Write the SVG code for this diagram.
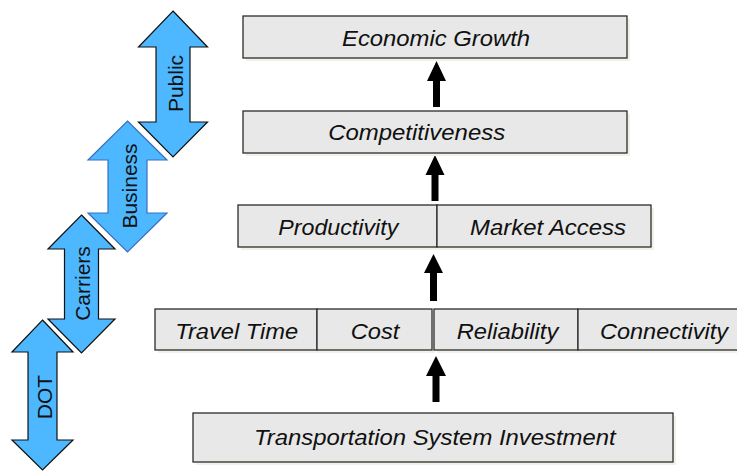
<svg xmlns="http://www.w3.org/2000/svg" width="737" height="471" viewBox="0 0 737 471">
  <style>
    .box { fill: #e8e8e8; stroke: #2b2b2b; stroke-width: 1.3; }
    .shadow { fill: #f1f1e8; }
    .lbl { font-family: "Liberation Sans", Arial, sans-serif; font-size: 21.5px; font-style: italic; fill: #111; text-anchor: middle; }
    .role { fill: #4db8ff; stroke: #111; stroke-width: 1.2; stroke-linejoin: miter; }
    .role-text { font-family: "Liberation Sans", Arial, sans-serif; font-size: 21px; fill: #111; text-anchor: middle; }
    .flow { fill: #000; }
  </style>

  <!-- stakeholder double arrows -->
  <g id="role-public">
    <polygon class="role" points="173,11 207.5,47 190,47 190,122 207.5,122 173,157 138.5,122 156,122 156,47 138.5,47"/>
    <text class="role-text" transform="translate(182.5,83.5) rotate(-90)">Public</text>
  </g>
  <g id="role-business">
    <polygon class="role" style="stroke:#3a6fc0" points="127.5,121 167,160 147,160 147,213 167,213 127.5,252 88,213 108,213 108,160 88,160"/>
    <text class="role-text" transform="translate(136.5,186) rotate(-90)">Business</text>
  </g>
  <g id="role-carriers">
    <polygon class="role" points="81.5,215 115,249 98.5,249 98.5,319 115,319 81.5,353 48,319 64.5,319 64.5,249 48,249"/>
    <text class="role-text" transform="translate(90,283.5) rotate(-90)">Carriers</text>
  </g>
  <g id="role-dot">
    <polygon class="role" points="42.5,320 73,352 57,352 57,440 73,440 42.5,470 12,440 28,440 28,352 12,352"/>
    <text class="role-text" transform="translate(51.5,397) rotate(-90)">DOT</text>
  </g>

  <!-- flow arrows between levels -->
  <g id="connectors">
    <polygon class="flow" points="436.5,61 446,81 440,81 440,107 433,107 433,81 427,81"/>
    <polygon class="flow" points="435,155 444.5,175 438.5,175 438.5,201 431.5,201 431.5,175 425.5,175"/>
    <polygon class="flow" points="433.5,254 443,273 437,273 437,301 430,301 430,273 424,273"/>
    <polygon class="flow" points="436,356 446,376 439.5,376 439.5,402 432.5,402 432.5,376 426,376"/>
  </g>

  <!-- outcome levels -->
  <g id="economic-growth">
    <rect class="shadow" x="246" y="19" width="384" height="42"/>
    <rect class="box" x="243" y="16" width="384" height="42"/>
    <text class="lbl" x="436" y="46" textLength="188" lengthAdjust="spacingAndGlyphs">Economic Growth</text>
  </g>
  <g id="competitiveness">
    <rect class="shadow" x="246" y="114" width="384" height="42"/>
    <rect class="box" x="243" y="111" width="384" height="42"/>
    <text class="lbl" x="416.7" y="140" textLength="177" lengthAdjust="spacingAndGlyphs">Competitiveness</text>
  </g>
  <g id="productivity">
    <rect class="shadow" x="241" y="208" width="199" height="42"/>
    <rect class="box" x="238" y="205" width="199" height="42"/>
    <text class="lbl" x="338.3" y="234.5" textLength="120" lengthAdjust="spacingAndGlyphs">Productivity</text>
  </g>
  <g id="market-access">
    <rect class="shadow" x="440" y="208" width="214" height="42"/>
    <rect class="box" x="437" y="205" width="214" height="42"/>
    <text class="lbl" x="548" y="234.5" textLength="156" lengthAdjust="spacingAndGlyphs">Market Access</text>
  </g>

  <!-- direct user impacts -->
  <g id="travel-time">
    <rect class="shadow" x="158" y="312" width="162" height="41"/>
    <rect class="box" x="155" y="309" width="162" height="41"/>
    <text class="lbl" x="236.7" y="338.5" textLength="123" lengthAdjust="spacingAndGlyphs">Travel Time</text>
  </g>
  <g id="cost">
    <rect class="shadow" x="320" y="312" width="115" height="41"/>
    <rect class="box" x="317" y="309" width="115" height="41"/>
    <text class="lbl" x="375" y="338.5" textLength="48.6" lengthAdjust="spacingAndGlyphs">Cost</text>
  </g>
  <g id="reliability">
    <rect class="shadow" x="437" y="312" width="144" height="41"/>
    <rect class="box" x="434" y="309" width="144" height="41"/>
    <text class="lbl" x="507.5" y="338.5" textLength="101.6" lengthAdjust="spacingAndGlyphs">Reliability</text>
  </g>
  <g id="connectivity">
    <rect class="shadow" x="581" y="312" width="164" height="41"/>
    <rect class="box" x="578" y="309" width="164" height="41"/>
    <text class="lbl" x="664" y="338.5" textLength="128" lengthAdjust="spacingAndGlyphs">Connectivity</text>
  </g>

  <!-- investment base -->
  <g id="investment">
    <rect class="shadow" x="196" y="416" width="480" height="49"/>
    <rect class="box" x="193" y="413" width="480" height="49"/>
    <text class="lbl" x="434.8" y="444.5" textLength="361.7" lengthAdjust="spacingAndGlyphs">Transportation System Investment</text>
  </g>
</svg>
